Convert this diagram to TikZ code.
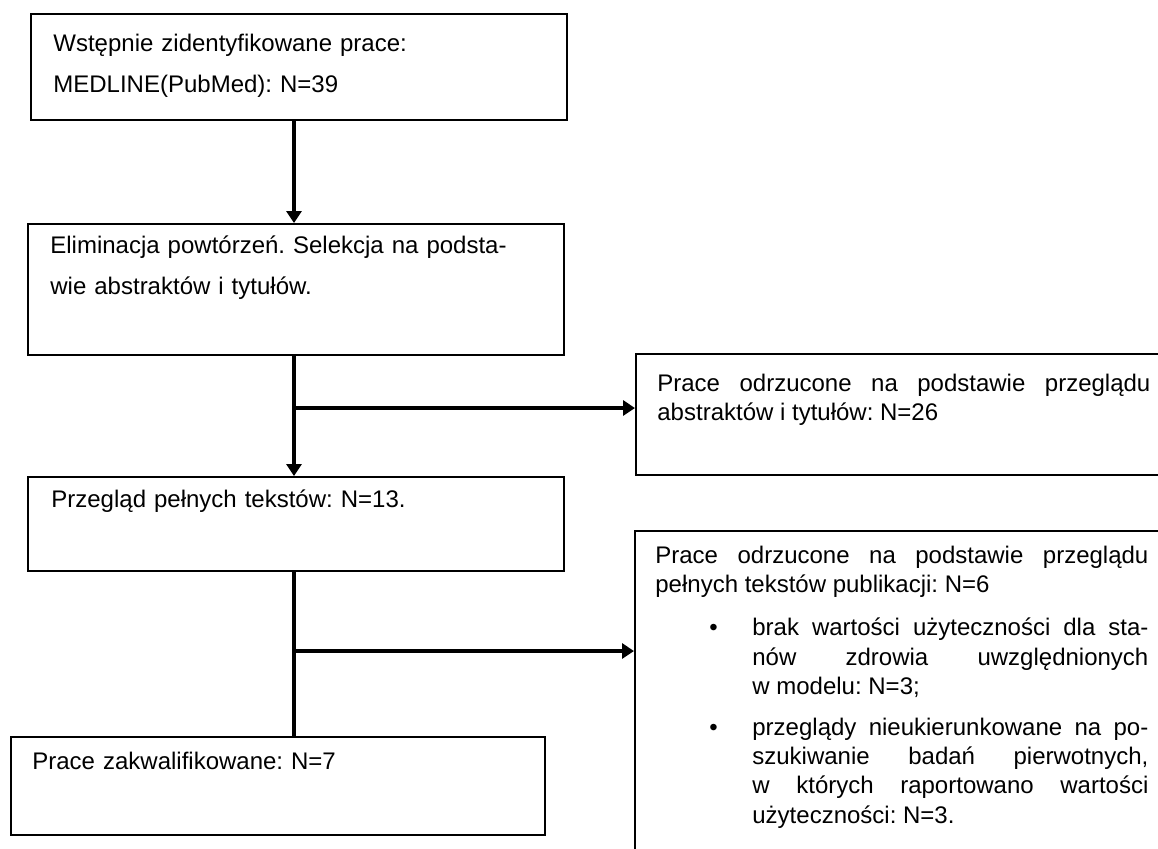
\documentclass[tikz,border=0pt]{standalone}
\usepackage{fontspec}
\setmainfont{Liberation Sans}
\usetikzlibrary{arrows.meta}
\frenchspacing
\newcommand\blabel[1]{\hbox to \labelwidth{#1\hfil}}
\newcommand\rset{\tolerance=10000\relax\hbadness=10000\relax\hyphenpenalty=10000\relax}
\begin{document}
\begin{tikzpicture}[x=0.5pt,y=-0.5pt,
  flowbox/.style={draw=black, line width=1pt, fill=white, rectangle, inner sep=0pt, anchor=north west},
  ltxt/.style={anchor=base west, inner sep=0pt, font=\fontsize{12pt}{20.5pt}\selectfont, align=left, text width=262pt},
  rtxt/.style={anchor=base west, inner sep=0pt, font=\fontsize{12pt}{14.7pt}\selectfont, align=justify, text width=246.5pt},
  conn/.style={line width=2pt},
  arr/.style={conn, -{Triangle[length=6pt,width=7.5pt]}}]
\path[use as bounding box] (0,0) rectangle (1158,848);
\clip (0,0) rectangle (1158,848);
\fill[white] (0,0) rectangle (1158,848);

% boxes
\node[flowbox, minimum width=268pt, minimum height=53pt] (b1) at (30,13) {};
\node[flowbox, minimum width=268pt, minimum height=65.5pt] (b2) at (27,223) {};
\node[flowbox, minimum width=268pt, minimum height=47pt] (b3) at (27,476) {};
\node[flowbox, minimum width=267pt, minimum height=49pt] (b4) at (10,736) {};
\node[flowbox, minimum width=270pt, minimum height=60.5pt] (b5) at (635,353) {};
\node[flowbox, minimum width=270pt, minimum height=170pt] (b6) at (634,530) {};

% texts
\node[ltxt] (t1) at (53,51) {Wstępnie zidentyfikowane prace:\\MEDLINE(PubMed): N=39};
\node[ltxt] (t2) at (50,253) {Eliminacja powtórzeń. Selekcja na podsta-\\wie abstraktów i tytułów.};
\node[ltxt] (t3) at (51,507) {Przegląd pełnych tekstów: N=13.};
\node[ltxt] (t4) at (32,769) {Prace zakwalifikowane: N=7};
\node[rtxt] (t5) at (657,391) {\rset Prace odrzucone na podstawie przeglądu\linebreak abstraktów i tytułów: N=26};
\node[rtxt] (t6) at (655,563) {\rset Prace odrzucone na podstawie przeglądu\linebreak pełnych tekstów publikacji: N=6
\begin{list}{\textbullet}{\setlength\leftmargin{48.5pt}\setlength\labelwidth{21.5pt}\setlength\labelsep{0pt}\setlength\itemsep{5.5pt}\setlength\parsep{0pt}\setlength\topsep{7pt}\setlength\partopsep{0pt}\setlength\rightmargin{0pt}\let\makelabel\blabel}
\item brak wartości użyteczności dla sta-\linebreak nów zdrowia uwzględnionych\linebreak w~modelu: N=3;
\item przeglądy nieukierunkowane na po-\linebreak szukiwanie badań pierwotnych,\linebreak w~których raportowano wartości\linebreak użyteczności: N=3.
\end{list}};

% connectors
\coordinate (sp) at (294,0);
\coordinate (j1) at (294,408);
\coordinate (j2) at (294,651);
\draw[arr] (b1.south -| sp) -- (b2.north -| sp);
\draw[arr] (b2.south -| sp) -- (b3.north -| sp);
\draw[conn] (b3.south -| sp) -- (b4.north -| sp);
\draw[arr] (j1) -- (j1 -| b5.west);
\draw[arr] (j2) -- (j2 -| b6.west);
\end{tikzpicture}
\end{document}
